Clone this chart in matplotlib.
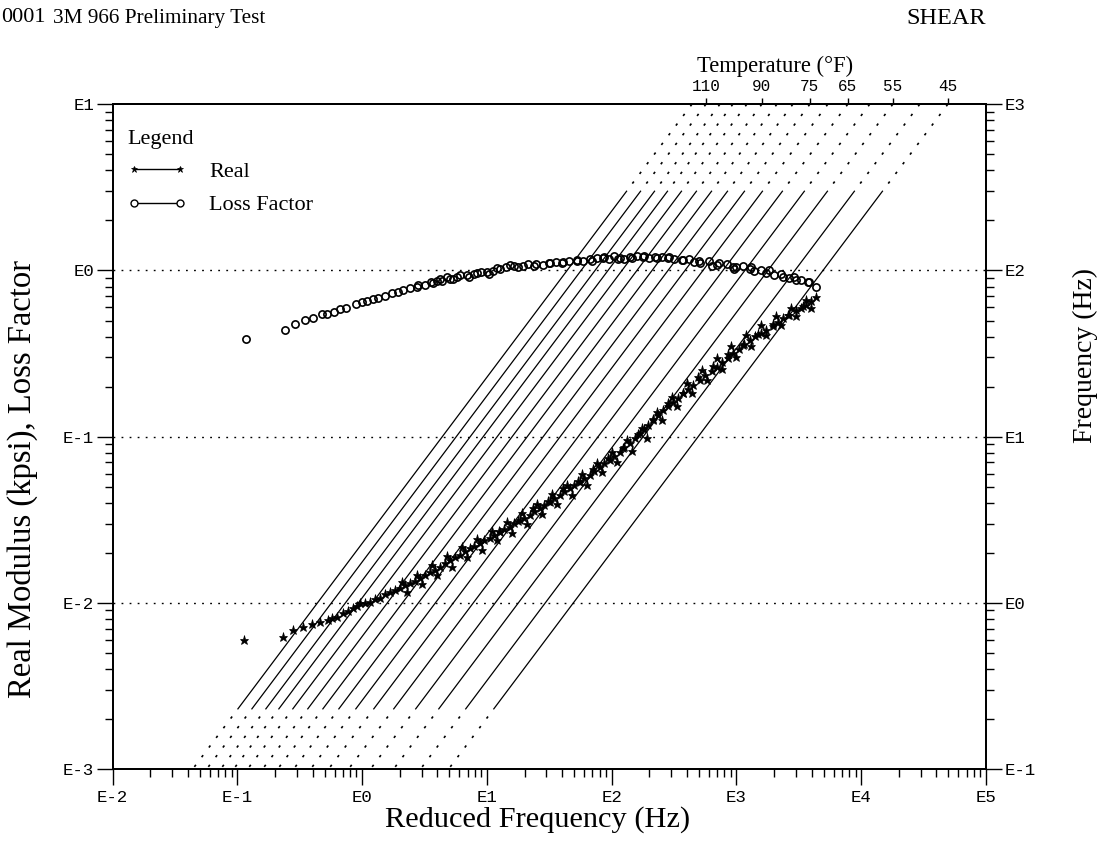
import numpy as np
import matplotlib
matplotlib.use("Agg")
import matplotlib.pyplot as plt
from matplotlib.lines import Line2D
from matplotlib.ticker import LogLocator, FuncFormatter, NullFormatter

# ---- measured data (log10 of reduced frequency in Hz, log10 of value) ----
real_log_fr = [
    -0.945, -0.638, -0.553, -0.473, -0.405, -0.339, -0.272, -0.240, -0.205, -0.152,
    -0.110, -0.072, -0.040, -0.018, 0.020, 0.062, 0.100, 0.142, 0.180, 0.222,
    0.260, 0.302, 0.340, 0.382, 0.420, 0.462, 0.500, 0.542, 0.580, 0.623,
    0.660, 0.703, 0.740, 0.783, 0.820, 0.863, 0.900, 0.943, 0.980, 1.023,
    1.060, 1.103, 1.140, 1.183, 1.220, 1.264, 1.300, 1.344, 1.380, 1.424,
    1.460, 1.504, 1.540, 1.584, 1.620, 1.664, 1.700, 1.744, 1.780, 1.825,
    1.860, 1.905, 1.940, 1.985, 2.020, 2.065, 2.100, 2.145, 2.185, 2.225,
    2.260, 2.292, 2.330, 2.370, 2.412, 2.450, 2.490, 2.530, 2.572, 2.610,
    2.650, 2.706, 2.750, 2.800, 2.840, 2.880, 2.930, 2.973, 3.020, 3.060,
    3.107, 3.150, 3.200, 3.240, 3.290, 3.330, 3.373, 3.420, 3.481, 3.520,
    3.561, 3.600, 3.641,
    0.32, 0.44, 0.56, 0.68, 0.80, 0.92, 1.04, 1.16, 1.28, 1.40,
    1.52, 1.64, 1.76, 1.88, 2.00, 2.12, 2.24, 2.36, 2.48, 2.60,
    2.72, 2.84, 2.96, 3.08, 3.20, 3.32, 3.44, 3.56,
    0.36, 0.48, 0.60, 0.72, 0.84, 0.96, 1.08, 1.20, 1.32, 1.44,
    1.56, 1.68, 1.80, 1.92, 2.04, 2.16, 2.28, 2.40, 2.52, 2.64,
    2.76, 2.88, 3.00, 3.12, 3.24, 3.36, 3.48, 3.60,
    1.10, 1.25, 1.37, 1.49, 1.61, 1.73, 1.85, 1.97, 2.09, 2.21,
    2.33, 2.45, 2.57, 2.69, 2.81, 2.93, 3.05, 3.17, 3.29, 3.41, 3.53,
]
real_log_mod = [
    -2.223, -2.203, -2.163, -2.143, -2.127, -2.113, -2.103, -2.090, -2.083, -2.063,
    -2.050, -2.033, -2.020, -2.002, -2.000, -1.993, -1.980, -1.972, -1.950, -1.933,
    -1.925, -1.912, -1.895, -1.882, -1.868, -1.852, -1.830, -1.812, -1.800, -1.782,
    -1.760, -1.742, -1.725, -1.712, -1.690, -1.671, -1.660, -1.641, -1.625, -1.611,
    -1.590, -1.572, -1.555, -1.542, -1.520, -1.501, -1.490, -1.471, -1.450, -1.431,
    -1.410, -1.391, -1.370, -1.351, -1.330, -1.311, -1.290, -1.271, -1.250, -1.230,
    -1.205, -1.181, -1.160, -1.140, -1.115, -1.090, -1.065, -1.040, -1.010, -0.980,
    -0.955, -0.930, -0.900, -0.870, -0.839, -0.815, -0.790, -0.765, -0.739, -0.715,
    -0.690, -0.659, -0.630, -0.605, -0.579, -0.550, -0.525, -0.498, -0.470, -0.445,
    -0.418, -0.395, -0.378, -0.358, -0.335, -0.310, -0.288, -0.265, -0.238, -0.225,
    -0.208, -0.185, -0.158,
    -1.875, -1.830, -1.775, -1.720, -1.665, -1.615, -1.565, -1.515, -1.460, -1.405,
    -1.345, -1.290, -1.225, -1.160, -1.095, -1.020, -0.945, -0.850, -0.760, -0.680,
    -0.600, -0.525, -0.455, -0.390, -0.330, -0.275, -0.225, -0.175,
    -1.935, -1.885, -1.835, -1.785, -1.725, -1.680, -1.625, -1.580, -1.525, -1.465,
    -1.405, -1.350, -1.290, -1.215, -1.155, -1.085, -1.010, -0.900, -0.815, -0.735,
    -0.660, -0.590, -0.520, -0.455, -0.390, -0.330, -0.275, -0.225,
    -1.565, -1.505, -1.430, -1.385, -1.310, -1.265, -1.195, -1.130, -1.070, -0.985,
    -0.895, -0.800, -0.735, -0.640, -0.575, -0.500, -0.450, -0.380, -0.320, -0.265, -0.215,
]

loss_log_fr = [
    -0.932, -0.619, -0.542, -0.457, -0.393, -0.325, -0.280, -0.227, -0.179, -0.131,
    -0.053, -0.005, 0.035, 0.083, 0.128, 0.182, 0.236, 0.289, 0.329, 0.382,
    0.436, 0.502, 0.569, 0.636, 0.676, 0.756, 0.837, 0.917, 0.997, 1.103,
    1.183, 1.290, 1.397, 1.504, 1.611, 1.718, 1.825, 1.931, 2.065, 2.150,
    2.250, 2.350, 2.450, 2.572, 2.706, 2.840, 2.973, 3.107, 3.240, 3.373,
    3.481, 3.574, 3.641,
    0.45, 0.55, 0.62, 0.70, 0.78, 0.86, 0.95, 1.02, 1.08, 1.15,
    1.22, 1.33, 1.45, 1.55, 1.66, 1.77, 1.88, 1.98, 2.02, 2.10,
    2.20, 2.30, 2.40, 2.50, 2.62, 2.66, 2.78, 2.80, 2.92, 2.98,
    3.05, 3.14, 3.20, 3.30, 3.42, 3.52,
    0.60, 0.73, 0.90, 1.05, 1.25, 1.38, 1.50, 1.60, 1.72, 1.84,
    1.94, 2.05, 2.16, 2.26, 2.36, 2.46, 2.56, 2.70, 2.86, 3.00,
    3.12, 3.26, 3.36, 3.46, 3.58,
]
loss_log_eta = [
    -0.414, -0.356, -0.322, -0.298, -0.284, -0.262, -0.262, -0.248, -0.234, -0.226,
    -0.200, -0.190, -0.184, -0.173, -0.164, -0.153, -0.137, -0.129, -0.117, -0.107,
    -0.097, -0.087, -0.077, -0.061, -0.037, -0.037, -0.027, -0.017, -0.007, 0.007,
    0.033, 0.027, 0.037, 0.043, 0.051, 0.057, 0.067, 0.073, 0.077, 0.080,
    0.083, 0.082, 0.075, 0.063, 0.043, 0.033, 0.023, 0.007, -0.017, -0.037,
    -0.057, -0.071, -0.101,
    -0.085, -0.070, -0.050, -0.050, -0.030, -0.040, -0.010, -0.020, 0.015, 0.020,
    0.025, 0.040, 0.035, 0.050, 0.060, 0.058, 0.074, 0.068, 0.085, 0.072,
    0.088, 0.075, 0.084, 0.070, 0.072, 0.050, 0.055, 0.030, 0.040, 0.010,
    0.030, -0.005, 0.005, -0.025, -0.045, -0.060,
    -0.064, -0.052, -0.022, -0.003, 0.018, 0.030, 0.048, 0.045, 0.062, 0.060,
    0.080, 0.070, 0.078, 0.090, 0.078, 0.080, 0.066, 0.060, 0.045, 0.020,
    0.018, 0.000, -0.020, -0.040, -0.068,
]

# ---- isotherms: temperature (deg F) and log10 shift factor ----
iso_temps_F = [115, 110, 105, 100, 95, 90, 85, 80, 75, 70, 65, 60, 55, 50, 45]
iso_log_shift = [-0.358, -0.246, -0.134, -0.030, 0.082, 0.202, 0.323, 0.451,
                 0.587, 0.731, 0.891, 1.067, 1.252, 1.468, 1.693]
labelled_temps = [110, 90, 75, 65, 55, 45]
test_freq_range = [0.23, 300.0]      # Hz, measured band (solid part)
freq_axis_range = [0.1, 1000.0]      # Hz, right-hand axis

plt.rcParams["lines.scale_dashes"] = False
SERIF = "Liberation Serif"
MONO = "Liberation Mono"
W, H = 1108, 851

fig = plt.figure(figsize=(W / 100, H / 100), dpi=100)
ax = fig.add_axes([0.1017, 0.0964, 0.7882, 0.781])
ax.set_xscale("log")
ax.set_yscale("log")
ax.set_xlim(1e-2, 1e5)
ax.set_ylim(1e-3, 1e1)

# frequency axis on the right for the isotherms
axr = ax.twinx()
axr.set_yscale("log")
axr.set_ylim(*freq_axis_range)
axr.xaxis.set_visible(False)

exp_fmt = FuncFormatter(lambda v, p: "E%d" % int(round(np.log10(v))))
for axis in (ax.xaxis, ax.yaxis, axr.yaxis):
    axis.set_major_locator(LogLocator(base=10, numticks=20))
    axis.set_minor_locator(LogLocator(base=10, subs=np.arange(2, 10), numticks=20))
    axis.set_major_formatter(exp_fmt)
    axis.set_minor_formatter(NullFormatter())

for a in (ax, axr):
    a.tick_params(which="major", direction="out", length=11.5, width=1.0, pad=2,
                  labelsize=12.5, colors="black")
    a.tick_params(which="minor", direction="out", length=5.5, width=1.0)
    for sp in a.spines.values():
        sp.set_linewidth(1.3)
for lbl in ax.get_xticklabels() + ax.get_yticklabels() + axr.get_yticklabels():
    lbl.set_family(MONO)
ax.xaxis.set_tick_params(pad=4)

# dotted reference levels
for lv in (1e0, 1e-1, 1e-2):
    ax.axhline(lv, color="black", lw=1.0, ls=(0, (1.3, 4.5)), zorder=1)

# isotherm lines: solid over the measured band, dotted beyond
dot_style = (1.8, (1.8, 6.9))
f_lo, f_hi = test_freq_range
f_min, f_max = freq_axis_range
for s in iso_log_shift:
    aT = 10.0 ** s
    axr.plot([f_lo * aT, f_hi * aT], [f_lo, f_hi], color="black", lw=0.9)
    axr.plot([f_lo * aT, f_min * aT], [f_lo, f_min], color="black", lw=1.2, ls=dot_style)
    axr.plot([f_hi * aT, f_max * aT], [f_hi, f_max], color="black", lw=1.2, ls=dot_style)

# data
ax.plot(10.0 ** np.array(real_log_fr), 10.0 ** np.array(real_log_mod), ls="none",
        marker="*", ms=6.5, color="black", mew=0.5, zorder=3)
ax.plot(10.0 ** np.array(loss_log_fr), 10.0 ** np.array(loss_log_eta), ls="none",
        marker="o", ms=5.2, mfc="none", mec="black", mew=1.2, zorder=3)

# temperature scale along the top: isotherm crossings of the top frequency
shift_of = dict(zip(iso_temps_F, iso_log_shift))
top_pos = [f_max * 10.0 ** shift_of[t] for t in labelled_temps]
axt = ax.secondary_xaxis("top")
axt.set_xticks(top_pos, [str(t) for t in labelled_temps])
axt.xaxis.set_minor_locator(plt.NullLocator())
axt.tick_params(which="major", direction="out", length=4.5, width=1.0, pad=3, labelsize=11.5)
for lbl in axt.get_xticklabels():
    lbl.set_family(MONO)
axt.spines["top"].set_linewidth(1.3)

# legend
handles = [
    Line2D([], [], color="black", lw=1.0, marker="*", ms=5, mew=0.5),
    Line2D([], [], color="black", lw=1.0, marker="o", ms=5, mfc="white", mew=1.0),
]
leg = ax.legend(handles, ["Real", "Loss Factor"], title="Legend", loc="upper left",
                bbox_to_anchor=(127 / W, 1 - 130 / H), bbox_transform=fig.transFigure,
                frameon=False, prop={"family": SERIF, "size": 16},
                title_fontproperties={"family": SERIF, "size": 16},
                handlelength=2.7, handletextpad=1.0, labelspacing=0.58,
                borderpad=0, borderaxespad=0, alignment="left", numpoints=2)
leg._legend_box.sep = 9

# titles and axis labels
fig.text(1 / W, 1 - 18 / H, "0001", family=SERIF, size=16, va="center", ha="left")
fig.text(53 / W, 1 - 18 / H, "3M 966 Preliminary Test", family=SERIF, size=15.3,
         va="center", ha="left")
fig.text(986 / W, 1 - 18 / H, "SHEAR", family=SERIF, size=17.5, va="center", ha="right")
fig.text(775 / W, 1 - 66 / H, "Temperature (\u00b0F)", family=SERIF, size=16.3,
         va="center", ha="center")
fig.text(538 / W, 1 - 820 / H, "Reduced Frequency (Hz)", family=SERIF, size=21.9,
         va="center", ha="center")
fig.text(22 / W, 1 - 479 / H, "Real Modulus (kpsi), Loss Factor", family=SERIF,
         size=23.5, va="center", ha="center", rotation=90)
fig.text(1085 / W, 1 - 355 / H, "Frequency (Hz)", family=SERIF, size=20,
         va="center", ha="center", rotation=90)

fig.savefig("out.png", dpi=100, facecolor="white")
